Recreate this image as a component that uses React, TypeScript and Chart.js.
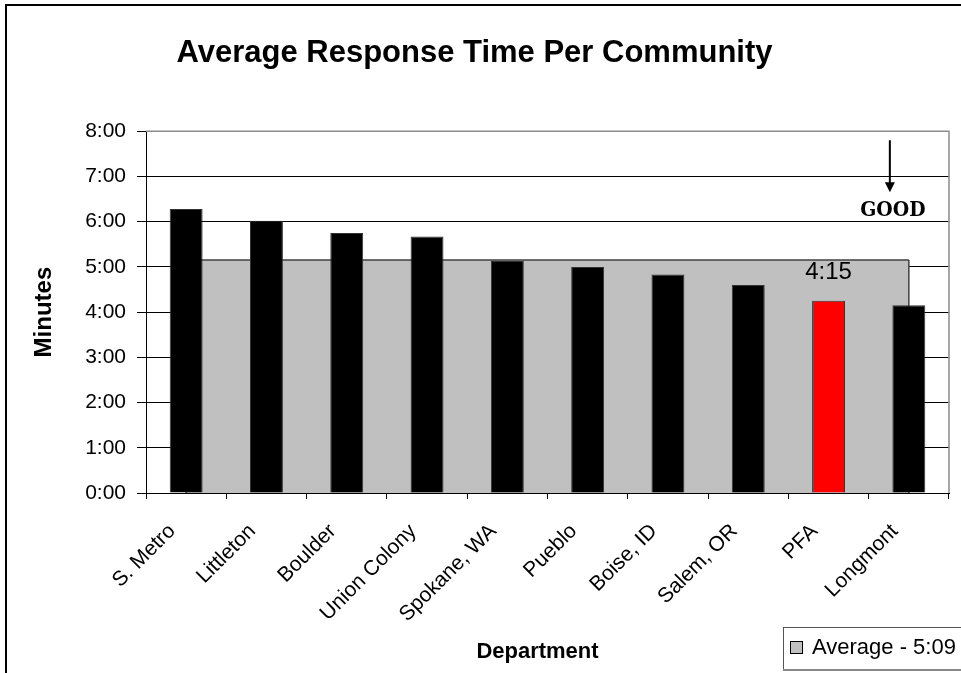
import React, { useEffect, useRef } from 'react';
import { Chart, registerables } from 'chart.js';

Chart.register(...registerables);

// ---- data ----
const categories = [
  'S. Metro',
  'Littleton',
  'Boulder',
  'Union Colony',
  'Spokane, WA',
  'Pueblo',
  'Boise, ID',
  'Salem, OR',
  'PFA',
  'Longmont',
];
// response time in minutes (decimal)
const responseMinutes = [6.28, 6.02, 5.75, 5.67, 5.13, 5.0, 4.83, 4.6, 4.25, 4.15];
// average of all departments (5:09)
const averageMinutes = [5.15, 5.15, 5.15, 5.15, 5.15, 5.15, 5.15, 5.15, 5.15, 5.15];
const highlightCategory = 'PFA';
const yMin = 0;
const yMax = 8;
const chartTitle = 'Average Response Time Per Community';
const xTitle = 'Department';
const yTitle = 'Minutes';
const goodLabel = 'GOOD';

const FONT = '"Liberation Sans", Arial, Helvetica, sans-serif';

function fmt(v: number): string {
  let m = Math.floor(v + 1e-9);
  let s = Math.round((v - m) * 60);
  if (s === 60) {
    m += 1;
    s = 0;
  }
  return `${m}:${String(s).padStart(2, '0')}`;
}

export default function App() {
  const ref = useRef<HTMLCanvasElement>(null);

  useEffect(() => {
    document.body.style.margin = '0';
    const canvas = ref.current;
    if (!canvas) return;

    const barColors = categories.map((c) => (c === highlightCategory ? '#ff0000' : '#000000'));

    const framePlugin = {
      id: 'frame',
      beforeDraw(chart: any) {
        const { ctx, width, height } = chart;
        ctx.save();
        ctx.fillStyle = '#ffffff';
        ctx.fillRect(0, 0, width, height);
        ctx.strokeStyle = '#000';
        ctx.lineWidth = 2;
        ctx.beginPath();
        ctx.moveTo(6, height);
        ctx.lineTo(6, 5);
        ctx.lineTo(width, 5);
        ctx.stroke();
        ctx.restore();
      },
      beforeDatasetsDraw(chart: any) {
        const { ctx, chartArea } = chart;
        ctx.save();
        ctx.strokeStyle = '#8c8c8c';
        ctx.lineWidth = 1.5;
        ctx.beginPath();
        ctx.moveTo(chartArea.left, chartArea.top);
        ctx.lineTo(chartArea.right, chartArea.top);
        ctx.lineTo(chartArea.right, chartArea.bottom);
        ctx.stroke();
        ctx.restore();
      },
      afterDatasetDraw(chart: any, args: any) {
        // vertical edges of the average area
        const ds = chart.data.datasets[args.index];
        if (ds.type !== 'line') return;
        const meta = chart.getDatasetMeta(args.index);
        const last = meta.data[meta.data.length - 1];
        const first = meta.data[0];
        const { ctx, chartArea } = chart;
        ctx.save();
        ctx.strokeStyle = '#404040';
        ctx.lineWidth = 1.5;
        ctx.beginPath();
        ctx.moveTo(last.x, last.y);
        ctx.lineTo(last.x, chartArea.bottom);
        ctx.moveTo(first.x, first.y);
        ctx.lineTo(first.x, chartArea.bottom);
        ctx.stroke();
        ctx.restore();
      },
      afterDatasetsDraw(chart: any) {
        const { ctx } = chart;
        // data label on highlighted bar
        const barIndex = chart.data.datasets.findIndex((d: any) => d.type === 'bar');
        const meta = chart.getDatasetMeta(barIndex);
        const hi = categories.indexOf(highlightCategory);
        const el = meta.data[hi];
        ctx.save();
        ctx.fillStyle = '#000';
        ctx.font = `24px ${FONT}`;
        ctx.textAlign = 'center';
        ctx.textBaseline = 'middle';
        ctx.fillText(fmt(responseMinutes[hi]), el.x, el.y - 28);
        ctx.restore();

        // GOOD arrow annotation
        const xs = chart.scales.x;
        const ys = chart.scales.y;
        const ax = xs.getPixelForValue(categories.length - 1) - 19;
        const yTop = ys.getPixelForValue(7.8);
        const yTip = ys.getPixelForValue(6.65);
        ctx.save();
        ctx.strokeStyle = '#000';
        ctx.fillStyle = '#000';
        ctx.lineWidth = 2;
        ctx.beginPath();
        ctx.moveTo(ax, yTop);
        ctx.lineTo(ax, yTip - 8);
        ctx.stroke();
        ctx.beginPath();
        ctx.moveTo(ax, yTip);
        ctx.lineTo(ax - 5, yTip - 10);
        ctx.lineTo(ax + 5, yTip - 10);
        ctx.closePath();
        ctx.fill();
        ctx.font = `bold 21px "DejaVu Serif Condensed", "DejaVu Serif", serif`;
        ctx.textAlign = 'center';
        ctx.textBaseline = 'middle';
        ctx.fillText(goodLabel, ax + 3, ys.getPixelForValue(6.25));
        ctx.restore();
      },
      afterDraw(chart: any) {
        const { ctx, width, height, chartArea } = chart;

        // x axis title
        ctx.save();
        ctx.fillStyle = '#000';
        ctx.font = `bold 22px ${FONT}`;
        ctx.textAlign = 'center';
        ctx.textBaseline = 'middle';
        ctx.fillText(xTitle, (chartArea.left + chartArea.right) / 2 - 10, height - 21);
        ctx.restore();

        // legend box
        const ds = chart.data.datasets.find((d: any) => d.type === 'line');
        const bx = width - 178;
        const by = height - 46;
        ctx.save();
        ctx.fillStyle = '#fff';
        ctx.fillRect(bx, by, 200, 42);
        ctx.strokeStyle = '#555';
        ctx.lineWidth = 1;
        ctx.strokeRect(bx + 0.5, by + 0.5, 200, 42);
        ctx.strokeStyle = '#888';
        ctx.lineWidth = 2;
        ctx.beginPath();
        ctx.moveTo(bx, by + 43);
        ctx.lineTo(width, by + 43);
        ctx.stroke();
        ctx.fillStyle = ds.backgroundColor;
        ctx.fillRect(bx + 7.5, by + 14.5, 12, 12);
        ctx.strokeStyle = '#000';
        ctx.lineWidth = 1;
        ctx.strokeRect(bx + 7.5, by + 14.5, 12, 12);
        ctx.fillStyle = '#000';
        ctx.font = `22px ${FONT}`;
        ctx.textAlign = 'left';
        ctx.textBaseline = 'middle';
        ctx.fillText(ds.label, bx + 29, by + 21);
        ctx.restore();
      },
    };

    const chart = new Chart(canvas, {
      type: 'bar',
      data: {
        labels: categories,
        datasets: [
          {
            type: 'bar',
            label: 'Response time',
            data: responseMinutes,
            backgroundColor: barColors,
            borderColor: '#333333',
            borderWidth: 1,
            barPercentage: 0.41,
            categoryPercentage: 1,
            order: 1,
          } as any,
          {
            type: 'line',
            label: `Average - ${fmt(averageMinutes[0])}`,
            data: averageMinutes,
            backgroundColor: '#c0c0c0',
            borderColor: '#404040',
            borderWidth: 1.5,
            pointRadius: 0,
            fill: 'origin',
            tension: 0,
            order: 2,
          } as any,
        ],
      },
      options: {
        responsive: false,
        animation: false,
        devicePixelRatio: 1,
        layout: { padding: { left: 0, right: 12, top: 0, bottom: 0 } },
        plugins: {
          legend: { display: false },
          tooltip: { enabled: false },
          title: {
            display: true,
            text: chartTitle,
            color: '#000',
            font: { family: FONT, size: 31, weight: 'bold' },
            padding: { top: 35, bottom: 59 },
          },
        },
        scales: {
          x: {
            type: 'category',
            offset: true,
            grid: {
              display: true,
              drawOnChartArea: false,
              drawTicks: true,
              tickLength: 6,
              color: '#000',
              offset: true,
            },
            border: { color: '#000', width: 1 },
            ticks: {
              autoSkip: false,
              maxRotation: 45,
              minRotation: 45,
              color: '#000',
              padding: 20,
              labelOffset: -14,
              font: { family: FONT, size: 21 },
            },
            title: { display: false, text: xTitle },
            afterFit(scale: any) {
              scale.height = 180;
            },
          },
          y: {
            min: yMin,
            max: yMax,
            grid: {
              color: (ctx: any) => (ctx.tick && ctx.tick.value === yMax ? '#8c8c8c' : '#000'),
              tickColor: '#000',
              tickLength: 9,
              lineWidth: 1,
            },
            border: { color: '#000', width: 1 },
            ticks: {
              stepSize: 1,
              color: '#000',
              padding: 11,
              font: { family: FONT, size: 21 },
              callback: (v: any) => fmt(Number(v)),
            },
            title: {
              display: true,
              text: yTitle,
              color: '#000',
              font: { family: FONT, size: 24, weight: 'bold' },
              padding: { top: 30, bottom: 0 },
            },
            afterFit(scale: any) {
              scale.width = 146;
            },
          },
        },
      },
      plugins: [framePlugin],
    });

    return () => chart.destroy();
  }, []);

  return (
    <div style={{ width: 961, height: 673 }}>
      <canvas ref={ref} width={961} height={673} style={{ display: 'block' }} />
    </div>
  );
}
